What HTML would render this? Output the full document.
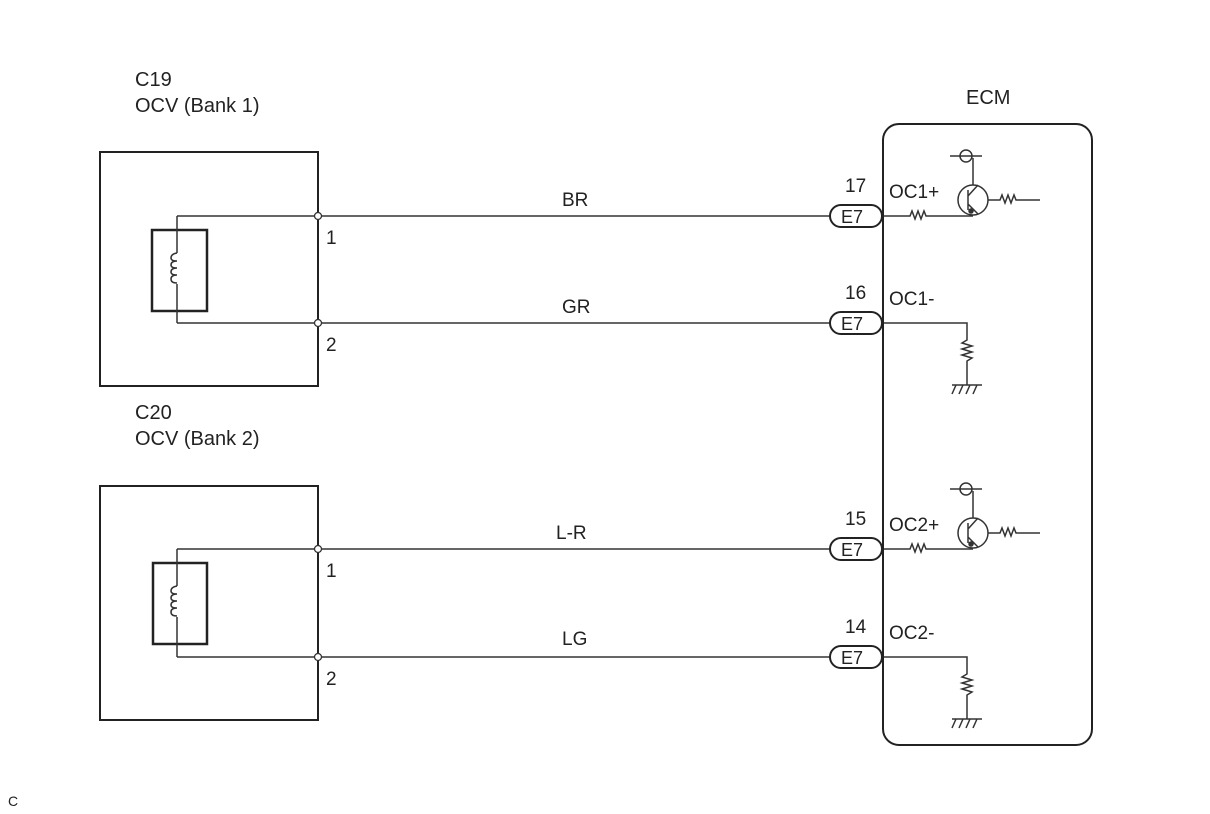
<!DOCTYPE html>
<html><head><style>body{margin:0;background:#fff}svg{display:block}text{font-family:"Liberation Sans",sans-serif;fill:#222}</style></head><body>
<svg width="1210" height="814" viewBox="0 0 1210 814" xmlns="http://www.w3.org/2000/svg">
<g font-size="20">
<text x="135" y="86">C19</text><text x="135" y="112">OCV (Bank 1)</text>
<text x="135" y="419">C20</text><text x="135" y="445">OCV (Bank 2)</text>
<text x="966" y="104">ECM</text>
</g>
<text x="8" y="806" font-size="14">C</text>
<g fill="none" stroke="#222">
<rect x="100" y="152" width="218" height="234" stroke-width="2"/>
<rect x="100" y="486" width="218" height="234" stroke-width="2"/>
<rect x="152" y="230" width="55" height="81" stroke-width="2.5"/>
<rect x="153" y="563" width="54" height="81" stroke-width="2.5"/>
<rect x="883" y="124" width="209" height="621" rx="16" stroke-width="2"/>
</g>
<g id="coil1" fill="none" stroke="#333" stroke-width="1.5">
<path d="M177 216V253 M177 284V323 M177 216H318 M177 323H318"/>
<path d="M177 253q-6 1-6 5 q0 3 6 3 q-6 0-6 4 q0 3 6 3 q-6 0-6 4 q0 3 6 3 q-6 0-6 4 q0 4 6 4"/>
<path d="M177 586V549 M177 617V657 M177 549H318 M177 657H318"/>
<path d="M177 586q-6 1-6 5 q0 3 6 3 q-6 0-6 4 q0 3 6 3 q-6 0-6 4 q0 3 6 3 q-6 0-6 4 q0 4 6 4"/>
<path d="M318 216H830 M318 323H830 M318 549H830 M318 657H830"/>
</g>
<g fill="#fff" stroke="#333" stroke-width="1.3">
<circle cx="318" cy="216" r="3.5"/><circle cx="318" cy="323" r="3.5"/>
<circle cx="318" cy="549" r="3.5"/><circle cx="318" cy="657" r="3.5"/>
</g>
<g font-size="19">
<text x="326" y="244">1</text><text x="326" y="351">2</text>
<text x="326" y="577">1</text><text x="326" y="685">2</text>
<text x="562" y="206">BR</text><text x="562" y="313">GR</text>
<text x="556" y="539">L-R</text><text x="562" y="645">LG</text>
<text x="845" y="192">17</text><text x="845" y="299">16</text>
<text x="845" y="525">15</text><text x="845" y="633">14</text>
<text x="889" y="198">OC1+</text><text x="889" y="305">OC1-</text>
<text x="889" y="531">OC2+</text><text x="889" y="639">OC2-</text>
</g>
<g fill="#fff" stroke="#222" stroke-width="2">
<rect x="830" y="205" width="52" height="22" rx="11"/><rect x="830" y="312" width="52" height="22" rx="11"/>
<rect x="830" y="538" width="52" height="22" rx="11"/><rect x="830" y="646" width="52" height="22" rx="11"/>
</g>
<g font-size="18"><text x="841" y="223">E7</text><text x="841" y="330">E7</text><text x="841" y="556">E7</text><text x="841" y="664">E7</text></g>
<defs>
<g id="drv" fill="none" stroke="#333" stroke-width="1.5">
<path d="M884 0H910 l2 -5 l3 8 l3 -8 l3 8 l3 -8 l2 5 H973"/>
<circle cx="973" cy="-16" r="15"/>
<path d="M968 -26V-6 M973 -31V-58 M968 -20L978 -31 M968 -12L978 -2 M988 -16H1000 l2 -5 l3 8 l3 -8 l3 8 l3 -8 l2 5H1040"/>
<circle cx="966" cy="-60" r="6" fill="#fff"/><path d="M950 -60H982"/>
<circle cx="971" cy="-5" r="2" fill="#333"/>
</g>
<g id="gnd" fill="none" stroke="#333" stroke-width="1.5">
<path d="M884 0H967V17 l-5 3 l10 3 l-10 3 l10 3 l-10 3 l10 3 l-5 3 V62 M952 62H982 M956 62l-4 9 M963 62l-4 9 M970 62l-4 9 M977 62l-4 9"/>
</g>
</defs>
<use href="#drv" y="216"/><use href="#drv" y="549"/>
<use href="#gnd" y="323"/><use href="#gnd" y="657"/>
</svg>
</body></html>
